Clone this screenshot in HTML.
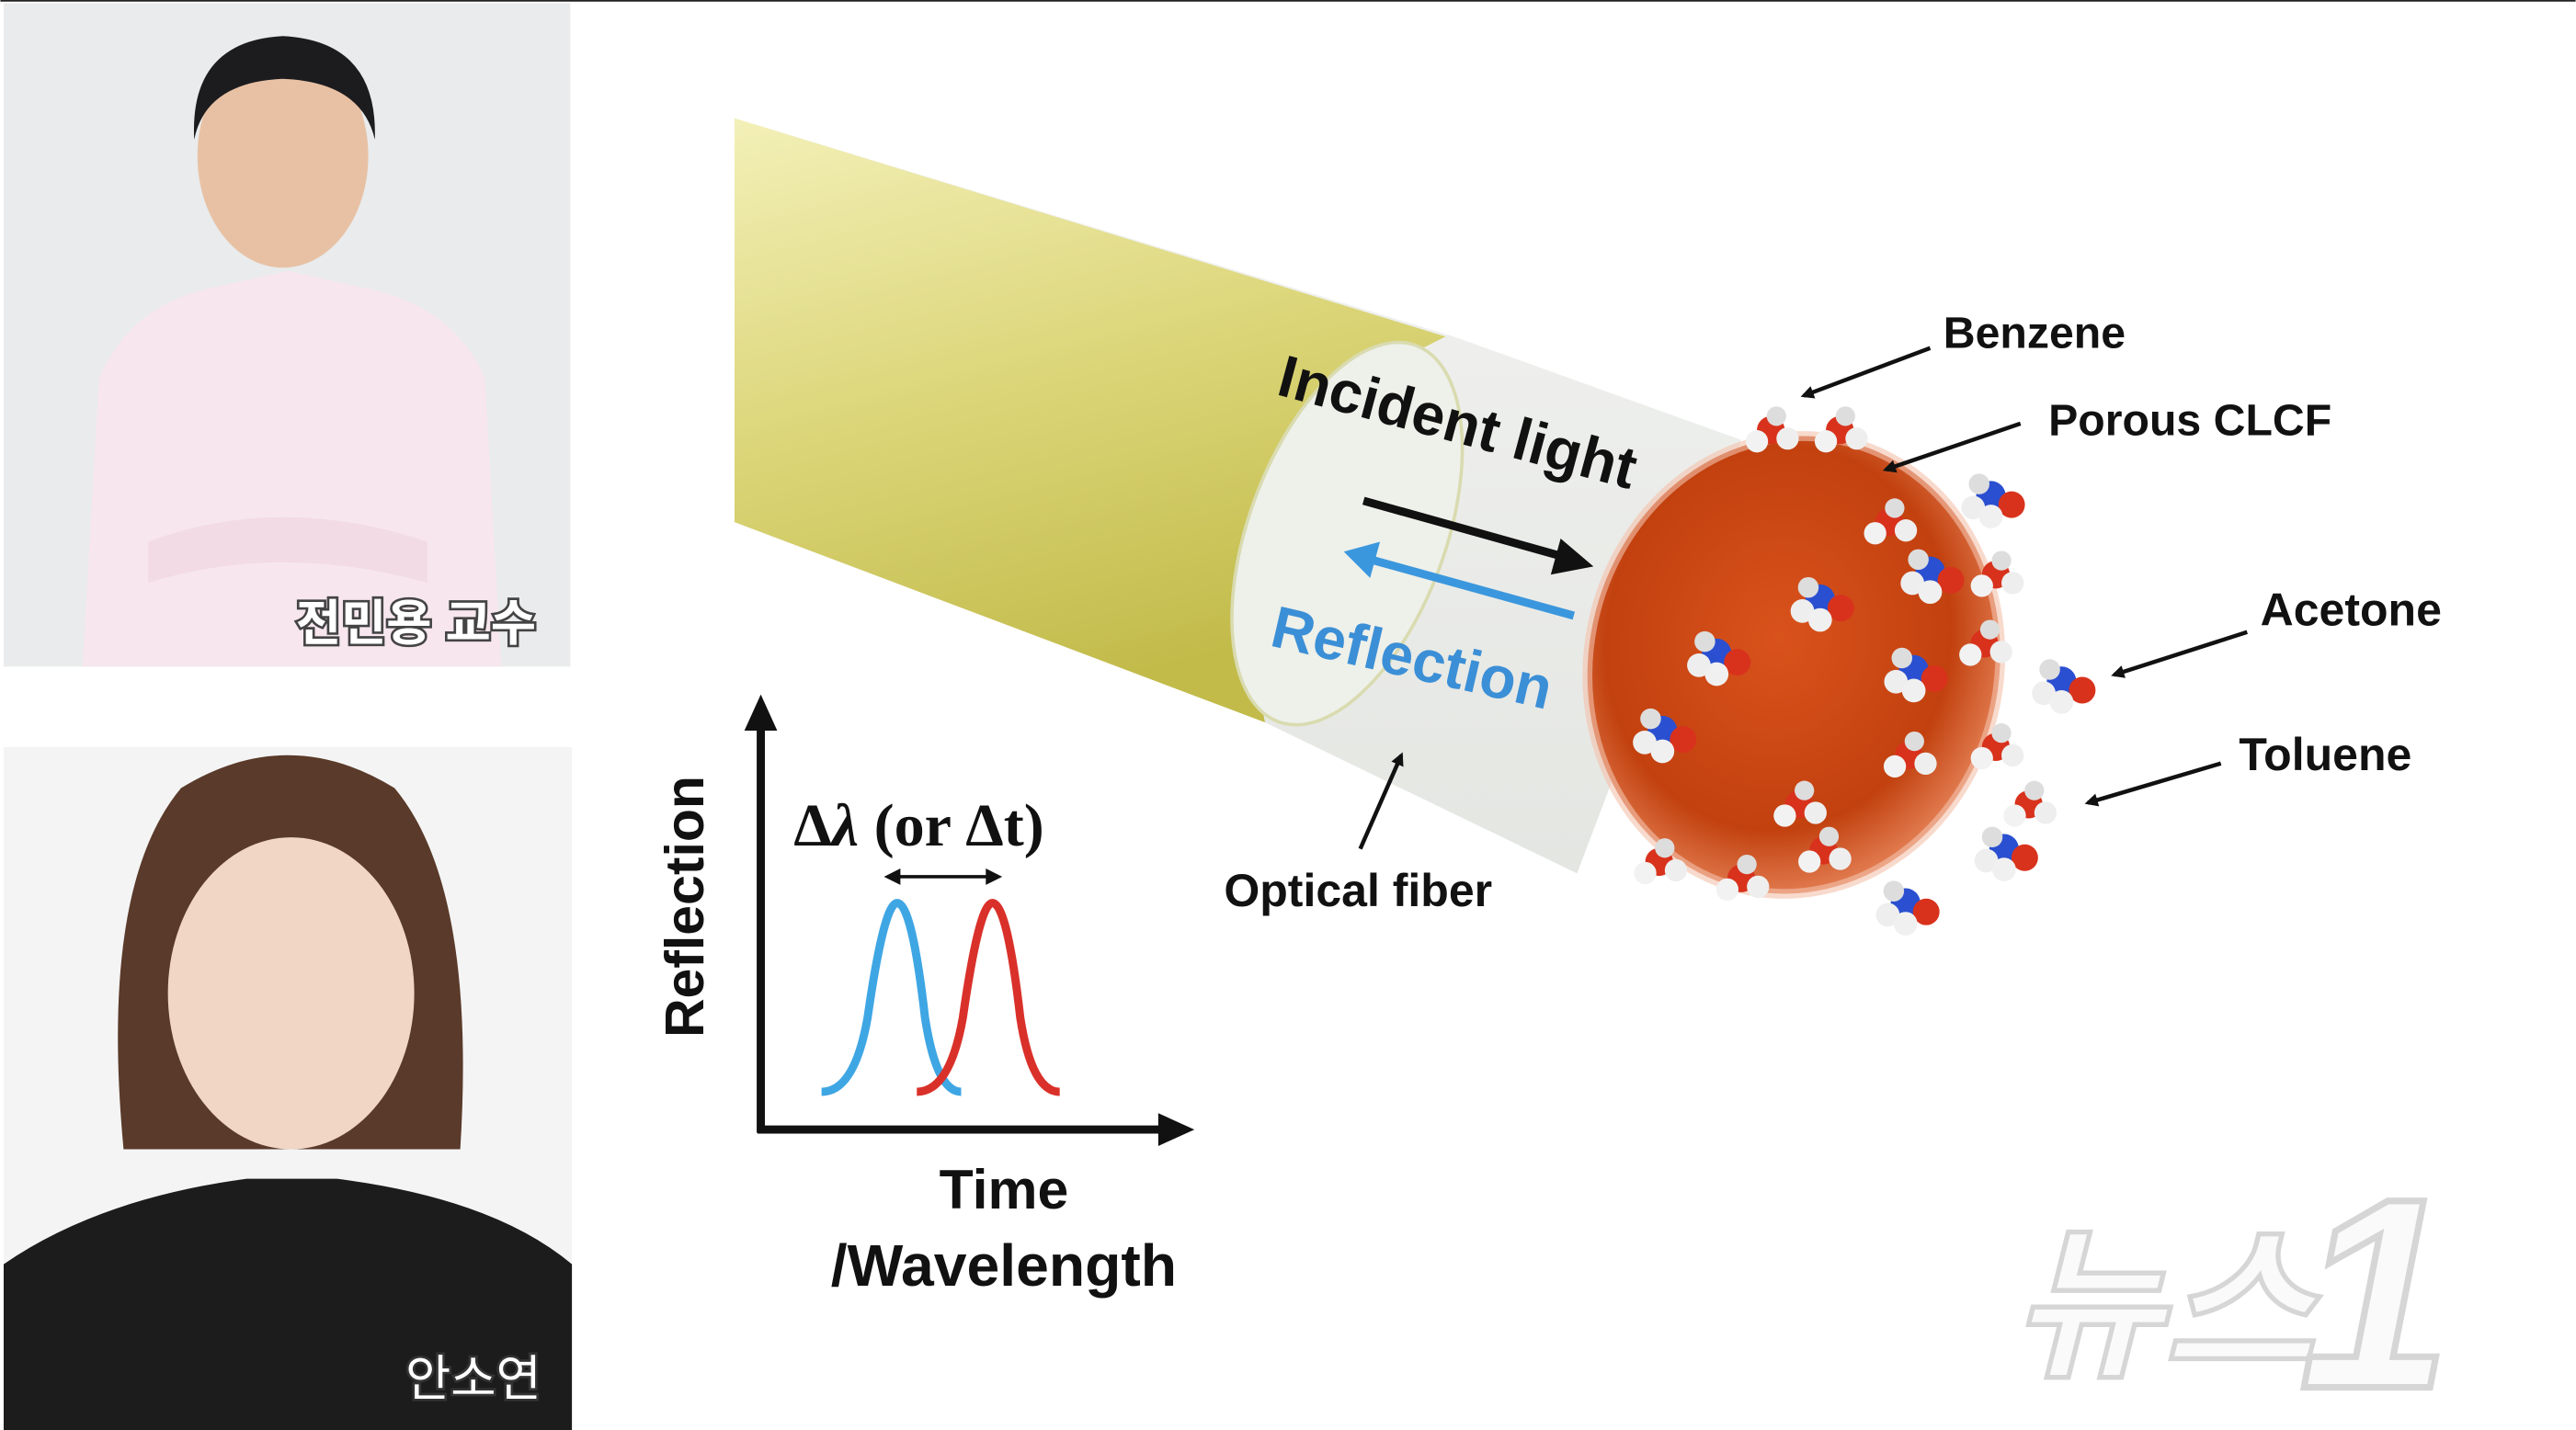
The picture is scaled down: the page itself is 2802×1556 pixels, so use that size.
<!DOCTYPE html>
<html><head><meta charset="utf-8">
<style>
html,body{margin:0;padding:0;background:#fff;}
body{width:2802px;height:1556px;overflow:hidden;}
svg{display:block;}
</style></head>
<body>
<svg width="2802" height="1556" viewBox="0 0 1568 871" xmlns="http://www.w3.org/2000/svg" font-family="'Liberation Sans','Noto Sans CJK KR',sans-serif">
<defs>
  <linearGradient id="yel" x1="0" y1="0" x2="0.3" y2="1">
    <stop offset="0" stop-color="#f3f0b8"/><stop offset="0.5" stop-color="#dcd67a"/><stop offset="1" stop-color="#c2bb4a"/>
  </linearGradient>
  <radialGradient id="red" cx="0.45" cy="0.45" r="0.6">
    <stop offset="0" stop-color="#d9521c"/><stop offset="0.7" stop-color="#c2410f"/><stop offset="1" stop-color="#e98a60"/>
  </radialGradient>
  <linearGradient id="clad" x1="0" y1="0" x2="0" y2="1">
    <stop offset="0" stop-color="#f2f3f1"/><stop offset="1" stop-color="#e4e6e2"/>
  </linearGradient>
  <marker id="ah" markerWidth="8" markerHeight="8" refX="6" refY="4" orient="auto" markerUnits="userSpaceOnUse">
    <path d="M0,0 L8,4 L0,8 Z" fill="#111"/>
  </marker>
  <g id="mol0">
    <circle cx="0" cy="0" r="5" fill="#d8321c"/><circle cx="6" cy="3" r="4" fill="#eee"/><circle cx="-5" cy="4" r="4" fill="#f2f2f2"/><circle cx="2" cy="-5" r="3.5" fill="#ddd"/>
  </g>
  <g id="mol"><use href="#mol0" transform="scale(1.7)"/></g>
  <g id="molb0">
    <circle cx="0" cy="0" r="5" fill="#2a4fd0"/><circle cx="7" cy="3" r="4.5" fill="#d8321c"/><circle cx="-6" cy="4" r="4" fill="#eee"/><circle cx="0" cy="7" r="4" fill="#f0f0f0"/><circle cx="-4" cy="-4" r="3.5" fill="#ddd"/>
  </g>
  <g id="molb"><use href="#molb0" transform="scale(1.8)"/></g>
</defs>
<rect width="1568" height="871" fill="#fff"/>
<line x1="0" y1="0.5" x2="1568" y2="0.5" stroke="#222" stroke-width="1"/>

<!-- top photo -->
<rect x="2" y="2" width="345" height="404" fill="#e9ebec"/>
<path d="M50,406 L60,230 Q80,185 130,175 L175,165 L220,175 Q275,185 295,230 L305,406 Z" fill="#f7e6ee"/>
<ellipse cx="172" cy="95" rx="52" ry="68" fill="#e8c1a4"/>
<path d="M118,85 Q115,25 172,22 Q230,25 228,85 Q220,50 172,48 Q125,50 118,85 Z" fill="#1c1c1f"/>
<path d="M90,330 Q170,300 260,330 L260,355 Q170,330 90,355 Z" fill="#f2dbe4"/>
<text x="253" y="390" font-size="30" fill="#fff" stroke="#444" stroke-width="3" paint-order="stroke" text-anchor="middle" font-weight="bold">전민용 교수</text>

<!-- bottom photo -->
<rect x="2" y="455" width="346" height="416" fill="#f4f4f4"/>
<path d="M75,700 Q60,540 110,480 Q175,440 240,480 Q290,540 280,700 Z" fill="#5a3a2a"/>
<ellipse cx="177" cy="605" rx="75" ry="95" fill="#f1d6c6"/>
<path d="M105,560 Q120,470 180,470 Q245,470 255,560 Q220,500 180,498 Q130,500 105,560 Z" fill="#5a3a2a"/>
<path d="M2,871 L2,770 Q60,730 150,718 L205,718 Q300,730 348,770 L348,871 Z" fill="#1c1c1c"/>
<text x="288" y="850" font-size="30" fill="#fff" stroke="#333" stroke-width="3" paint-order="stroke" text-anchor="middle">안소연</text>

<!-- fiber -->
<path d="M447,72 L885,205 L1060,268 L960,532 L770,440 L447,318 Z" fill="url(#clad)"/>
<path d="M447,72 L880,205 L860,215 Q740,300 770,440 L447,318 Z" fill="url(#yel)"/>
<ellipse cx="820" cy="325" rx="60" ry="122" transform="rotate(20 820 325)" fill="#eef0ea" stroke="#d9dbb0" stroke-width="2"/>
<ellipse cx="1092" cy="405" rx="125" ry="140" transform="rotate(12 1092 405)" fill="url(#red)"/>
<ellipse cx="1092" cy="405" rx="125" ry="140" transform="rotate(12 1092 405)" fill="none" stroke="#f3c2ac" stroke-width="6" opacity="0.6"/>

<!-- molecules -->
<use href="#mol" x="1078" y="262"/><use href="#mol" x="1120" y="262"/><use href="#molb" x="1212" y="302"/>
<use href="#mol" x="1150" y="318"/><use href="#molb" x="1175" y="348"/><use href="#mol" x="1215" y="350"/>
<use href="#molb" x="1108" y="365"/><use href="#molb" x="1045" y="398"/><use href="#molb" x="1165" y="408"/>
<use href="#mol" x="1208" y="392"/><use href="#molb" x="1255" y="415"/><use href="#molb" x="1012" y="445"/>
<use href="#mol" x="1162" y="460"/><use href="#mol" x="1215" y="455"/><use href="#mol" x="1095" y="490"/>
<use href="#mol" x="1235" y="490"/><use href="#molb" x="1220" y="517"/><use href="#mol" x="1110" y="518"/>
<use href="#mol" x="1010" y="525"/><use href="#mol" x="1060" y="535"/><use href="#molb" x="1160" y="550"/>

<!-- incident / reflection -->
<text x="0" y="0" font-size="36" font-weight="bold" fill="#111" transform="translate(776,240) rotate(15)">Incident light</text>
<line x1="830" y1="305" x2="955" y2="340" stroke="#111" stroke-width="5"/>
<path d="M970,345 L950,328 L944,350 Z" fill="#111"/>
<line x1="958" y1="375" x2="835" y2="341" stroke="#3b97dd" stroke-width="5"/>
<path d="M818,336 L840,330 L834,352 Z" fill="#3b97dd"/>
<text x="0" y="0" font-size="36" font-weight="bold" fill="#3b8fd6" transform="translate(772,393) rotate(13)">Reflection</text>

<!-- labels -->
<g font-size="26" font-weight="bold" fill="#111">
<text x="1183" y="212" font-size="27">Benzene</text>
<text x="1247" y="265" font-size="27">Porous CLCF</text>
<text x="1376" y="381" font-size="28">Acetone</text>
<text x="1363" y="469" font-size="28">Toluene</text>
<text x="745" y="552" font-size="28">Optical fiber</text>
</g>
<g stroke="#111" stroke-width="2.5" marker-end="url(#ah)">
<line x1="1175" y1="212" x2="1098" y2="241"/>
<line x1="1230" y1="258" x2="1148" y2="286"/>
<line x1="1368" y1="385" x2="1287" y2="411"/>
<line x1="1352" y1="465" x2="1271" y2="489"/>
<line x1="828" y1="517" x2="853" y2="460"/>
</g>

<!-- graph -->
<line x1="463" y1="690" x2="463" y2="440" stroke="#111" stroke-width="5"/>
<path d="M463,423 L453,445 L473,445 Z" fill="#111"/>
<line x1="461" y1="688" x2="708" y2="688" stroke="#111" stroke-width="5"/>
<path d="M727,688 L705,678 L705,698 Z" fill="#111"/>
<text x="0" y="0" font-size="33" font-weight="bold" fill="#111" transform="translate(428,632) rotate(-90)">Reflection</text>
<text x="483" y="515" font-size="37" font-weight="bold" font-family="'Liberation Serif',serif" fill="#111">Δ<tspan font-style="italic">λ</tspan> (or Δt)</text>
<line x1="545" y1="534" x2="603" y2="534" stroke="#111" stroke-width="2"/>
<path d="M538,534 L548,529 L548,539 Z M610,534 L600,529 L600,539 Z" fill="#111"/>
<path d="M500,665 Q520,665 528,620 Q538,550 546,550 Q555,550 563,620 Q570,665 585,665" fill="none" stroke="#3fa6e4" stroke-width="5"/>
<path d="M558,665 Q578,665 586,620 Q596,550 604,550 Q613,550 621,620 Q628,665 645,665" fill="none" stroke="#d9312a" stroke-width="5"/>
<text x="611" y="736" font-size="34" font-weight="bold" fill="#111" text-anchor="middle">Time</text>
<text x="611" y="783" font-size="36" font-weight="bold" fill="#111" text-anchor="middle">/Wavelength</text>

<!-- logo -->
<text x="1225" y="830" font-size="100" font-weight="bold" fill="#fafafa" stroke="#d6d6d6" stroke-width="3" font-style="italic">뉴스</text>
<text x="1400" y="845" font-size="165" font-weight="bold" fill="#fafafa" stroke="#d6d6d6" stroke-width="4" font-style="italic">1</text>
</svg>
</body></html>
